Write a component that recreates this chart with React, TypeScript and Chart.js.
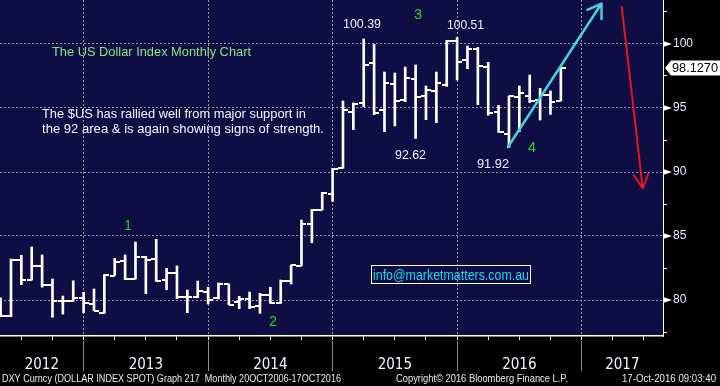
import React, { useEffect, useRef } from "react";
import { Chart, registerables } from "chart.js";

Chart.register(...registerables);

// ---------- data (monthly OHLC, DXY) ----------
const months = [
  "2012-04", "2012-05", "2012-06", "2012-07", "2012-08", "2012-09", "2012-10", "2012-11", "2012-12",
  "2013-01", "2013-02", "2013-03", "2013-04", "2013-05", "2013-06", "2013-07", "2013-08", "2013-09", "2013-10", "2013-11", "2013-12",
  "2014-01", "2014-02", "2014-03", "2014-04", "2014-05", "2014-06", "2014-07", "2014-08", "2014-09", "2014-10", "2014-11", "2014-12",
  "2015-01", "2015-02", "2015-03", "2015-04", "2015-05", "2015-06", "2015-07", "2015-08", "2015-09", "2015-10", "2015-11", "2015-12",
  "2016-01", "2016-02", "2016-03", "2016-04", "2016-05", "2016-06", "2016-07", "2016-08", "2016-09", "2016-10",
];
const opens = [
  79.6, 78.75, 83.1, 81.56, 82.66, 81.2, 79.9, 79.9, 80.16,
  79.69, 79.01, 81.9, 83.02, 81.67, 83.33, 83.18, 81.6, 82.08, 80.21, 80.2, 80.65,
  80.18, 81.22, 79.82, 80.08, 79.5, 80.37, 79.74, 81.48, 82.68, 85.94, 87.03, 88.28,
  90.29, 94.66, 95.36, 98.49, 94.82, 96.88, 95.6, 97.24, 95.91, 96.3, 96.77, 100.21,
  98.72, 99.58, 98.18, 94.66, 92.94, 95.83, 95.91, 95.6, 95.99, 95.55,
];
const highs = [
  80.16, 83.2, 83.49, 84.14, 83.52, 81.64, 80.31, 81.5, 80.6,
  80.86, 81.98, 83.25, 83.52, 84.53, 83.4, 84.74, 82.47, 82.66, 80.78, 81.48, 80.99,
  81.33, 81.25, 80.29, 80.62, 80.52, 81.0, 81.56, 82.73, 86.25, 87.08, 88.41, 90.29,
  95.55, 95.39, 100.39, 99.97, 97.81, 97.73, 98.2, 98.36, 96.72, 97.81, 100.29, 100.51,
  99.84, 99.74, 98.57, 95.21, 95.94, 96.72, 97.58, 96.54, 96.33, 98.13,
];
const lows = [
  78.7, 78.7, 81.2, 81.56, 81.0, 78.65, 78.9, 79.9, 79.0,
  79.17, 78.96, 81.93, 81.6, 81.64, 80.5, 81.46, 80.8, 80.1, 79.01, 80.18, 79.69,
  80.08, 79.64, 79.32, 79.32, 78.96, 79.74, 79.74, 81.25, 82.68, 84.48, 87.03, 87.71,
  90.29, 93.31, 95.1, 94.48, 93.15, 93.6, 95.49, 92.62, 94.09, 93.85, 96.69, 97.19,
  98.07, 95.26, 94.43, 93.1, 91.92, 93.15, 95.42, 94.06, 94.5, 95.55,
];
const closes = [
  78.75, 83.13, 81.6, 82.66, 81.15, 79.9, 79.9, 80.16, 79.74,
  79.17, 81.93, 82.97, 81.67, 83.33, 83.13, 81.46, 82.08, 80.21, 80.21, 80.68, 80.0,
  81.28, 79.64, 80.08, 79.43, 80.42, 79.78, 81.48, 82.71, 85.94, 87.06, 88.33, 90.27,
  94.82, 95.31, 98.36, 94.58, 96.93, 95.52, 97.32, 95.83, 96.38, 96.93, 100.23, 98.62,
  99.58, 98.26, 94.58, 93.1, 95.91, 96.15, 95.52, 95.99, 95.47, 98.127,
];
const yearLabels = ["2012", "2013", "2014", "2015", "2016", "2017"];
const priceTicks = [80, 85, 90, 95, 100];
const lastPrice = 98.127;

// ---------- layout / style constants ----------
const BASE_YEAR = 2012;
const X_MIN = 3.942;
const X_MAX = 67.846;
const Y_MIN = 77.1875;
const Y_MAX = 103.4375;
const NAVY = "#0f0e44";
const GRID = "#9a9a9a";
const SANS = '"Liberation Sans", Arial, sans-serif';
const NARROW = '"Liberation Sans Narrow", "DejaVu Sans Condensed", "Liberation Sans", Arial, sans-serif';

const toT = (m: string) => {
  const [y, mo] = m.split("-").map(Number);
  return (y - BASE_YEAR) * 12 + mo;
};

const yearStarts = yearLabels
  .map((y) => (Number(y) - BASE_YEAR) * 12)
  .filter((v) => v > X_MIN && v < X_MAX);
const yearLabelTicks = yearLabels.map((y) => {
  const s = Math.max((Number(y) - BASE_YEAR) * 12, X_MIN);
  const e = Math.min((Number(y) - BASE_YEAR + 1) * 12, X_MAX);
  return { value: (s + e) / 2, label: y };
});
const isStart = (v: number) => yearStarts.some((s) => Math.abs(s - v) < 1e-6);
const isMajor = (v: number) => priceTicks.some((p) => Math.abs(p - v) < 1e-6);

function tickImage(side: "left" | "right") {
  const c = document.createElement("canvas");
  c.width = 10;
  c.height = 2;
  const g = c.getContext("2d")!;
  g.fillStyle = "#ffffff";
  g.fillRect(side === "left" ? 0 : 5, 0, 5, 2);
  return c;
}

function fitText(ctx: CanvasRenderingContext2D, s: string, x: number, y: number, width: number, font: string, color: string, align: "left" | "center" = "left") {
  ctx.save();
  ctx.font = font;
  ctx.fillStyle = color;
  ctx.textAlign = "left";
  ctx.textBaseline = "alphabetic";
  const w = ctx.measureText(s).width;
  const left = align === "center" ? x - width / 2 : x;
  ctx.translate(left, y);
  ctx.scale(width / w, 1);
  ctx.fillText(s, 0, 0);
  ctx.restore();
}

function arrow(ctx: CanvasRenderingContext2D, x1: number, y1: number, x2: number, y2: number, color: string, width: number, headLen: number, headAng: number) {
  ctx.save();
  ctx.strokeStyle = color;
  ctx.lineWidth = width;
  ctx.lineCap = "round";
  ctx.lineJoin = "round";
  ctx.beginPath();
  ctx.moveTo(x1, y1);
  ctx.lineTo(x2, y2);
  const ang = Math.atan2(y1 - y2, x1 - x2);
  const a1 = ang + (headAng * Math.PI) / 180;
  const a2 = ang - (headAng * Math.PI) / 180;
  ctx.moveTo(x2 + headLen * Math.cos(a1), y2 + headLen * Math.sin(a1));
  ctx.lineTo(x2, y2);
  ctx.lineTo(x2 + headLen * Math.cos(a2), y2 + headLen * Math.sin(a2));
  ctx.stroke();
  ctx.restore();
}

const bgPlugin = {
  id: "bgPlugin",
  beforeDraw(chart: any) {
    const { ctx, chartArea: a, width, height } = chart;
    ctx.save();
    ctx.fillStyle = "#000000";
    ctx.fillRect(0, 0, width, height);
    ctx.fillStyle = NAVY;
    ctx.fillRect(a.left, a.top, a.right - a.left, a.bottom - a.top);
    ctx.restore();
  },
};

const annotationPlugin = {
  id: "annotationPlugin",
  afterDatasetsDraw(chart: any) {
    const { ctx } = chart;
    const xs = chart.scales.x;
    const ys = chart.scales.y;
    const idx = (m: string) => months.indexOf(m);

    // arrows
    arrow(ctx, xs.getPixelForValue(52.9), ys.getPixelForValue(91.95), xs.getPixelForValue(61.92), ys.getPixelForValue(103.16), "#46d0dc", 2.5, 15.5, 33);
    arrow(ctx, xs.getPixelForValue(63.87), ys.getPixelForValue(102.91), xs.getPixelForValue(65.89), ys.getPixelForValue(88.73), "#e8141e", 2, 15.6, 28);

    // commentary
    fitText(ctx, "The US Dollar Index Monthly Chart", 52, 56, 199, `13px ${SANS}`, "#80e880");
    fitText(ctx, "The $US has rallied well from major support in", 42, 117.5, 264, `13px ${SANS}`, "#f4f4ff");
    fitText(ctx, "the 92 area & is again showing signs of strength.", 42, 133, 282, `13px ${SANS}`, "#f4f4ff");

    // wave counts
    const green = "#22dd22";
    fitText(ctx, "1", 128, 230, 7, `14px ${SANS}`, green, "center");
    fitText(ctx, "2", 273, 326, 8, `14px ${SANS}`, green, "center");
    fitText(ctx, "3", 418, 19, 8, `14px ${SANS}`, green, "center");
    fitText(ctx, "4", 532, 152, 8, `14px ${SANS}`, green, "center");

    // extreme values
    const lbl = "#eef0ff";
    fitText(ctx, highs[idx("2015-03")].toFixed(2), 362, 28.3, 38, `13px ${SANS}`, lbl, "center");
    fitText(ctx, highs[idx("2015-12")].toFixed(2), 465.5, 28.5, 37, `13px ${SANS}`, lbl, "center");
    fitText(ctx, lows[idx("2015-08")].toFixed(2), 410.5, 159, 31, `13px ${SANS}`, lbl, "center");
    fitText(ctx, lows[idx("2016-05")].toFixed(2), 493, 168, 32, `13px ${SANS}`, lbl, "center");

    // email box
    ctx.save();
    ctx.strokeStyle = "#ffffff";
    ctx.lineWidth = 1;
    ctx.strokeRect(371.5, 265.5, 159, 18);
    ctx.restore();
    fitText(ctx, "info@marketmatters.com.au", 451, 279.5, 156, `14px ${SANS}`, "#18dcee", "center");
  },
  afterDraw(chart: any) {
    const { ctx, chartArea: a } = chart;
    const ys = chart.scales.y;
    ctx.save();
    ctx.fillStyle = "#ffffff";
    for (const p of priceTicks) {
      const y = ys.getPixelForValue(p);
      ctx.beginPath();
      ctx.moveTo(a.right, y - 3);
      ctx.lineTo(a.right + 9, y);
      ctx.lineTo(a.right, y + 3);
      ctx.closePath();
      ctx.fill();
    }
    // last price tag
    const ly = ys.getPixelForValue(lastPrice);
    ctx.beginPath();
    ctx.moveTo(a.right + 2, ly);
    ctx.lineTo(a.right + 8, ly - 7.5);
    ctx.lineTo(chart.width, ly - 7.5);
    ctx.lineTo(chart.width, ly + 7.5);
    ctx.lineTo(a.right + 8, ly + 7.5);
    ctx.closePath();
    ctx.fill();
    ctx.restore();
    fitText(ctx, lastPrice.toFixed(4), a.right + 9, ly + 4.5, 46, `13px ${SANS}`, "#000000");

    // footer
    const ft = `11px ${SANS}`;
    fitText(ctx, "DXY Curncy (DOLLAR INDEX SPOT) Graph 217  Monthly 20OCT2006-17OCT2016", 2, 381.5, 339, ft, "#e8e8e8");
    fitText(ctx, "Copyright\u00A9 2016 Bloomberg Finance L.P.", 396, 381.5, 172, ft, "#e8e8e8");
    fitText(ctx, "17-Oct-2016 09:03:40", 622, 381.5, 94, ft, "#e8e8e8");
  },
};

export default function App() {
  const ref = useRef<HTMLCanvasElement>(null);

  useEffect(() => {
    document.body.style.margin = "0";
    const openImg = tickImage("left");
    const closeImg = tickImage("right");
    const xs = months.map(toT);

    const chart = new Chart(ref.current!, {
      type: "line",
      data: {
        datasets: [
          {
            type: "bar",
            data: xs.map((t, i) => ({ x: t, y: [lows[i], highs[i]] })) as any,
            backgroundColor: "#ffffff",
            borderWidth: 0,
            barThickness: 2,
            xAxisID: "x",
            yAxisID: "y",
          } as any,
          {
            type: "line",
            data: xs.map((t, i) => ({ x: t, y: opens[i] })),
            showLine: false,
            pointStyle: openImg as any,
            pointRadius: 5,
            xAxisID: "x",
            yAxisID: "y",
          },
          {
            type: "line",
            data: xs.map((t, i) => ({ x: t, y: closes[i] })),
            showLine: false,
            pointStyle: closeImg as any,
            pointRadius: 5,
            xAxisID: "x",
            yAxisID: "y",
          },
        ],
      },
      options: {
        responsive: false,
        animation: false,
        devicePixelRatio: 1,
        events: [],
        layout: { padding: 0, autoPadding: false },
        plugins: {
          legend: { display: false },
          tooltip: { enabled: false },
          title: { display: false },
        },
        scales: {
          x: {
            type: "linear",
            position: "bottom",
            min: X_MIN,
            max: X_MAX,
            offset: false,
            afterBuildTicks: (scale: any) => {
              const t: any[] = [];
              for (let v = Math.ceil(X_MIN / 3) * 3; v <= X_MAX; v += 3) t.push({ value: v });
              scale.ticks = t;
            },
            afterFit: (scale: any) => {
              scale.height = 5;
              scale.paddingLeft = 0;
              scale.paddingRight = 0;
            },
            grid: {
              offset: false,
              drawOnChartArea: true,
              drawTicks: true,
              tickLength: 4,
              lineWidth: 1,
              tickWidth: 1,
              color: (c: any) => (c.tick && isStart(c.tick.value) ? GRID : "transparent"),
              tickColor: "#ffffff",
            },
            border: { display: true, color: "#ffffff", width: 1.5, dash: [2, 2] },
            ticks: { display: false },
          } as any,
          x2: {
            type: "linear",
            axis: "x",
            position: "bottom",
            min: X_MIN,
            max: X_MAX,
            offset: false,
            afterBuildTicks: (scale: any) => {
              const t = [...yearStarts.map((v) => ({ value: v })), ...yearLabelTicks.map((y) => ({ value: y.value }))];
              t.sort((p, q) => p.value - q.value);
              scale.ticks = t;
            },
            afterFit: (scale: any) => {
              scale.height = 45;
              scale.paddingLeft = 0;
              scale.paddingRight = 0;
            },
            grid: {
              offset: false,
              drawOnChartArea: false,
              drawTicks: true,
              tickLength: 30,
              tickWidth: 1,
              tickColor: (c: any) => (c.tick && isStart(c.tick.value) ? "#8a8a8a" : "transparent"),
            },
            border: { display: false },
            ticks: {
              autoSkip: false,
              maxRotation: 0,
              minRotation: 0,
              padding: -15,
              color: "#f4f4ff",
              font: { family: NARROW, size: 15 },
              callback: (value: any) => {
                const f = yearLabelTicks.find((y) => Math.abs(y.value - Number(value)) < 1e-6);
                return f ? f.label : "";
              },
            },
          } as any,
          y: {
            type: "linear",
            position: "right",
            min: Y_MIN,
            max: Y_MAX,
            afterBuildTicks: (scale: any) => {
              const t: any[] = [];
              for (const p of priceTicks) {
                t.push({ value: p - 2.5 });
                t.push({ value: p });
              }
              t.push({ value: priceTicks[priceTicks.length - 1] + 2.5 });
              scale.ticks = t.filter((v) => v.value > Y_MIN && v.value < Y_MAX);
            },
            afterFit: (scale: any) => {
              scale.width = 57;
              scale.paddingTop = 0;
              scale.paddingBottom = 0;
            },
            grid: {
              drawOnChartArea: true,
              drawTicks: true,
              tickLength: 4,
              lineWidth: 1,
              tickWidth: 1,
              color: (c: any) => (c.tick && isMajor(c.tick.value) ? GRID : "transparent"),
              tickColor: "#ffffff",
            },
            border: { display: true, color: "#ffffff", width: 1, dash: [2, 2] },
            ticks: {
              padding: 6,
              color: "#e2ecff",
              font: { family: SANS, size: 12 },
              callback: (value: any) => (isMajor(Number(value)) ? String(value) : ""),
            },
          } as any,
        },
      },
      plugins: [bgPlugin, annotationPlugin],
    } as any);

    return () => chart.destroy();
  }, []);

  return (
    <div style={{ width: 720, height: 386 }}>
      <canvas ref={ref} width={720} height={386} style={{ display: "block" }} />
    </div>
  );
}
